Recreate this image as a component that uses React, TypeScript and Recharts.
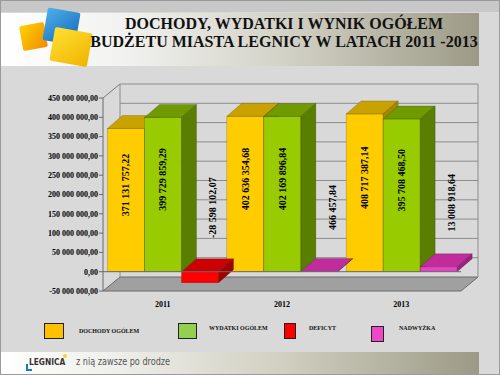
import { BarChart, Bar, XAxis, YAxis, CartesianGrid, LabelList, Cell, ReferenceLine } from 'recharts'

const lata = ['2011', '2012', '2013']
const dochody = [371131757.22, 402636354.68, 408717387.14]
const wydatki = [399729859.29, 402169896.84, 395708468.5]
const wynik = [-28598102.07, 466457.84, 13008918.64]
const osY = [-50000000, 0, 50000000, 100000000, 150000000, 200000000, 250000000, 300000000, 350000000, 400000000, 450000000]

const legenda = [
  { nazwa: 'DOCHODY OGÓLEM', kolor: '#ffc000' },
  { nazwa: 'WYDATKI OGÓLEM', kolor: '#92d050' },
  { nazwa: 'DEFICYT', kolor: '#ff0000' },
  { nazwa: 'NADWYŻKA', kolor: '#f046c8' },
]

const data = lata.map((rok, i) => ({
  rok,
  dochody: dochody[i],
  wydatki: wydatki[i],
  wynik: wynik[i],
}))

const SERIF = '"Liberation Serif", "Times New Roman", serif'
const DX = 17
const DY = 14
const BDX = 15
const BDY = 13
const TOP = 97
const BOTTOM = 290

// 371131757.22 -> "371 131 757,22"
const kwota = (v: number) => {
  const [c, d] = Math.abs(v).toFixed(2).split('.')
  const grupy = c.replace(/\B(?=(\d{3})+(?!\d))/g, ' ')
  return (v < 0 ? '-' : '') + grupy + ',' + d
}

const palety: Record<string, { front: string; top: string; side: string }> = {
  dochody: { front: '#ffcc00', top: '#c9a200', side: '#a88700' },
  wydatki: { front: '#99cc00', top: '#6f9a00', side: '#5a7e00' },
  deficyt: { front: '#ff0000', top: '#cc0000', side: '#a00000' },
  nadwyzka: { front: '#e840c4', top: '#c02c9c', side: '#9c2080' },
}

const box = (klucz: string) => (props: any) => {
  const { x, y, width, height, payload } = props
  if (x == null || payload == null) return <g />
  let p = palety[klucz]
  if (klucz === 'wynik') p = payload.wynik < 0 ? palety.deficyt : palety.nadwyzka
  const top = Math.min(y, y + height)
  const h = Math.abs(height)
  const w = width
  return (
    <g stroke="rgba(0,0,0,0.35)" strokeWidth={0.5}>
      <rect x={x} y={top} width={w} height={h} fill={p.front} />
      <polygon
        points={`${x},${top} ${x + BDX},${top - BDY} ${x + w + BDX},${top - BDY} ${x + w},${top}`}
        fill={p.top}
      />
      <polygon
        points={`${x + w},${top} ${x + w + BDX},${top - BDY} ${x + w + BDX},${top + h - BDY} ${x + w},${top + h}`}
        fill={p.side}
      />
    </g>
  )
}

const etykieta = (cx: number, cy: number, value: number) => (
  <text
    x={cx}
    y={cy}
    transform={`rotate(-90 ${cx} ${cy})`}
    textAnchor="middle"
    dominantBaseline="central"
    fontFamily={SERIF}
    fontWeight="bold"
    fontSize={10}
    fill="#000"
  >
    {kwota(value)}
  </text>
)

const etykietaWBarze = (props: any) => {
  const { x, y, width, height, value } = props
  return etykieta(x + width / 2, y + height / 2 - 15, value)
}

const etykietaWyniku = (props: any) => {
  const { x, y, width, height, value } = props
  return etykieta(x + width / 2 + 13, Math.min(y, y + height) - 64, value)
}

// linie siatki przesunięte na tylną ścianę + podłoga
const liniaSiatki = (props: any) => {
  const { x1, x2, y1, key } = props
  const gora = Math.abs(y1 - TOP) < 1
  const dol = Math.abs(y1 - BOTTOM) < 1
  if (dol) {
    return (
      <g key={key}>
        <polygon
          points={`${x1},${y1} ${x2},${y1} ${x2 + DX},${y1 - DY} ${x1 + DX},${y1 - DY}`}
          fill="#a0a0a0"
          stroke="#6a6a6a"
          strokeWidth={1}
        />
      </g>
    )
  }
  return (
    <g key={key}>
      <line x1={x1 + DX} y1={y1 - DY} x2={x2 + DX} y2={y1 - DY} stroke="#8c8c8c" strokeWidth={1} />
      {gora && (
        <>
          <line x1={x1} y1={y1} x2={x1 + DX} y2={y1 - DY} stroke="#7a7a7a" />
          <line x1={x1 + DX} y1={y1 - DY} x2={x1 + DX} y2={BOTTOM - DY} stroke="#8c8c8c" />
          <line x1={x2 + DX} y1={y1 - DY} x2={x2 + DX} y2={BOTTOM - DY} stroke="#8c8c8c" />
        </>
      )}
    </g>
  )
}

const pozycjeLegendy = [
  { x: 43, w: 20, t: 78 },
  { x: 177, w: 19, t: 208 },
  { x: 283, w: 12, t: 308 },
  { x: 370, w: 13, t: 398 },
]

export default function App() {
  return (
    <div
      style={{
        position: 'fixed',
        left: 0,
        top: 0,
        width: 500,
        height: 375,
        background: '#d9d9d9',
        overflow: 'hidden',
        boxSizing: 'border-box',
        border: '1px solid #9a9a9a',
      }}
    >
      {/* pasek tytułowy */}
      <div style={{ position: 'absolute', left: 0, top: 0, width: 500, height: 11, background: '#c8c8c8' }} />
      <div
        style={{
          position: 'absolute',
          left: 0,
          top: 12,
          width: 478,
          height: 53,
          background: 'linear-gradient(to right, #ffffff 0%, #f2f2f0 25%, #d2d1c6 60%, #9c9a86 100%)',
        }}
      />
      <div
        style={{
          position: 'absolute', left: 20, top: 23, width: 25, height: 25,
          background: 'linear-gradient(135deg, #ffd200, #f08c00)', transform: 'rotate(-10deg)', borderRadius: 2,
        }}
      />
      <div
        style={{
          position: 'absolute', left: 44, top: 9, width: 33, height: 33,
          background: 'linear-gradient(135deg, #4eb0ea, #1565b8)', transform: 'rotate(10deg)', borderRadius: 2,
        }}
      />
      <div
        style={{
          position: 'absolute', left: 51, top: 29, width: 38, height: 34,
          background: 'linear-gradient(135deg, #ffe033, #f0b400)', transform: 'rotate(10deg)', borderRadius: 2,
        }}
      />
      <div
        style={{
          position: 'absolute',
          left: 80,
          top: 14,
          width: 406,
          textAlign: 'center',
          fontFamily: SERIF,
          fontWeight: 'bold',
          fontSize: 16,
          lineHeight: '18px',
          color: '#111',
        }}
      >
        DOCHODY, WYDATKI I WYNIK OGÓŁEM
        <br />
        BUDŻETU MIASTA LEGNICY W LATACH 2011 -2013
      </div>

      {/* wykres */}
      <div style={{ position: 'absolute', left: 0, top: 0 }}>
        <BarChart
          width={500}
          height={375}
          data={data}
          margin={{ top: TOP, right: 40, bottom: 65, left: 0 }}
          barCategoryGap={4.5}
          barGap={0}
        >
          <CartesianGrid vertical={false} horizontal={liniaSiatki} />
          <XAxis
            dataKey="rok"
            height={20}
            axisLine={false}
            tickLine={false}
            tick={{ fontFamily: SERIF, fontWeight: 'bold', fontSize: 8, fill: '#000' }}
            tickMargin={4}
          />
          <YAxis
            width={102}
            domain={[-50000000, 450000000]}
            ticks={osY}
            interval={0}
            tickFormatter={kwota}
            stroke="#6a6a6a"
            tickSize={4}
            tickMargin={1}
            tick={{ fontFamily: SERIF, fontWeight: 'bold', fontSize: 8, fill: '#000' }}
          />
          <ReferenceLine y={0} stroke="#6a6a6a" />
          <Bar dataKey="dochody" shape={box('dochody')} isAnimationActive={false}>
            <LabelList dataKey="dochody" content={etykietaWBarze} />
          </Bar>
          <Bar dataKey="wydatki" shape={box('wydatki')} isAnimationActive={false}>
            <LabelList dataKey="wydatki" content={etykietaWBarze} />
          </Bar>
          <Bar dataKey="wynik" shape={box('wynik')} isAnimationActive={false}>
            {wynik.map((v, i) => (
              <Cell key={i} fill={v < 0 ? palety.deficyt.front : palety.nadwyzka.front} />
            ))}
            <LabelList dataKey="wynik" content={etykietaWyniku} />
          </Bar>
        </BarChart>
      </div>

      {/* legenda */}
      {legenda.map((l, i) => {
        const p = pozycjeLegendy[i]
        return (
          <div key={l.nazwa}>
            <div
              style={{
                position: 'absolute', left: p.x, top: i === 3 ? 325 : 322, width: p.w, height: 16,
                background: l.kolor, border: '1px solid #222', boxSizing: 'border-box',
              }}
            />
            <div
              style={{
                position: 'absolute', left: p.t, top: i === 0 ? 327 : 324,
                fontFamily: SERIF, fontWeight: 'bold', fontSize: 6, color: '#111', whiteSpace: 'nowrap',
              }}
            >
              {l.nazwa}
            </div>
          </div>
        )
      })}

      {/* stopka */}
      <div
        style={{
          position: 'absolute',
          left: 0,
          top: 351,
          width: 478,
          height: 24,
          background: 'linear-gradient(to right, #ffffff 0%, #eeeeea 25%, #cfcebf 60%, #9c9a86 100%)',
        }}
      />
      <div style={{ position: 'absolute', left: 25, top: 363, width: 2, height: 7, background: '#1a78c2' }} />
      <div style={{ position: 'absolute', left: 25, top: 368, width: 6, height: 2, background: '#1a78c2' }} />
      <div style={{ position: 'absolute', left: 62, top: 353, width: 4, height: 4, borderRadius: 2, background: '#ffd21e' }} />
      <div
        style={{
          position: 'absolute', left: 28, top: 356, fontFamily: '"DejaVu Sans Condensed", sans-serif',
          fontWeight: 'bold', fontSize: 9, color: '#333', transformOrigin: 'left top', transform: 'scaleX(0.92)',
        }}
      >
        LEGNICA
      </div>
      <div
        style={{
          position: 'absolute', left: 75, top: 354, fontFamily: '"DejaVu Sans Condensed", sans-serif',
          fontSize: 11, color: '#555', whiteSpace: 'nowrap', transformOrigin: 'left top', transform: 'scaleX(0.82)',
        }}
      >
        z nią zawsze po drodze
      </div>
    </div>
  )
}
